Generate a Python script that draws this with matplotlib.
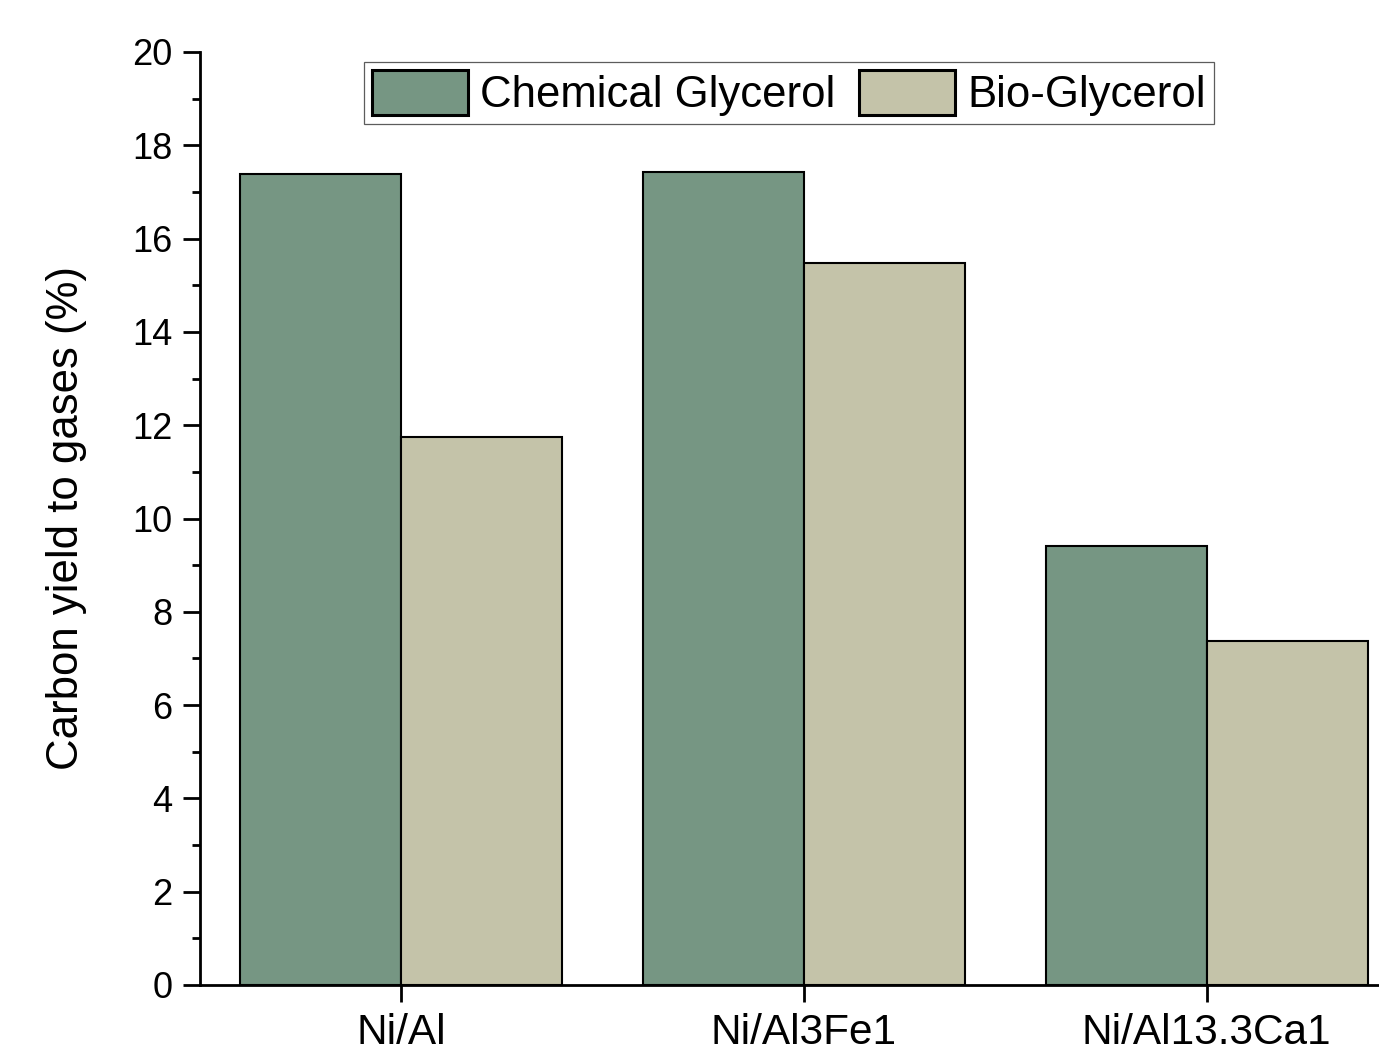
import numpy as np
import matplotlib
matplotlib.use("Agg")
import matplotlib.pyplot as plt
from matplotlib.ticker import MultipleLocator

plt.rcParams["font.family"] = ["Liberation Sans", "DejaVu Sans"]

catalysts = ["Ni/Al", "Ni/Al3Fe1", "Ni/Al13.3Ca1"]
chemical = [17.38, 17.43, 9.41]
bio = [11.75, 15.48, 7.37]

green = "#769683"
beige = "#c4c3a9"

fig = plt.figure(figsize=(13.79, 10.51), dpi=100)
ax = fig.add_axes([200 / 1379, 1 - 985 / 1051, 1208 / 1379, (985 - 52) / 1051])

x = np.arange(len(catalysts))
w = 0.4
ax.bar(x - w / 2, chemical, w, color=green, edgecolor="black", linewidth=1.5,
       label="Chemical Glycerol", zorder=2)
ax.bar(x + w / 2, bio, w, color=beige, edgecolor="black", linewidth=1.5,
       label="Bio-Glycerol", zorder=2)

ax.set_xlim(-0.5, 2.5)
ax.set_ylim(0, 20)
ax.set_xticks(x)
ax.set_xticklabels(catalysts, fontsize=30.5)
ax.yaxis.set_major_locator(MultipleLocator(2))
ax.yaxis.set_minor_locator(MultipleLocator(1))
ax.tick_params(axis="y", which="major", labelsize=26, length=12, width=2, pad=8)
ax.tick_params(axis="y", which="minor", length=6, width=2)
ax.tick_params(axis="x", which="major", length=12, width=2, pad=8)

for s in ["top", "right"]:
    ax.spines[s].set_visible(False)
for s in ["left", "bottom"]:
    ax.spines[s].set_linewidth(2)

ax.set_ylabel("Carbon yield to gases (%)", fontsize=31.5, labelpad=32)

leg = fig.legend(loc="upper left", bbox_to_anchor=(364 / 1379, 1 - 62 / 1051),
                 ncol=2, fontsize=31.5, frameon=True, fancybox=False,
                 handlelength=2.2, handleheight=1.2, handletextpad=0.28,
                 columnspacing=0.53, borderpad=0.18, borderaxespad=0)
leg.get_frame().set_edgecolor("#333333")
leg.get_frame().set_linewidth(0.9)
for h in leg.legend_handles:
    h.set_linewidth(2.2)

fig.savefig("out.png", dpi=100)
